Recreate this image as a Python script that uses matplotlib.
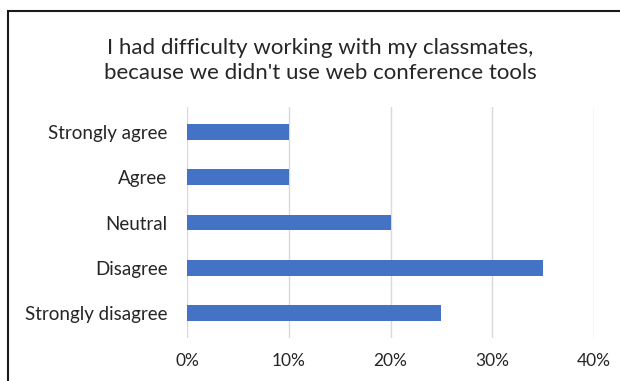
import matplotlib.pyplot as plt
from matplotlib.patches import Rectangle
from matplotlib.ticker import PercentFormatter

categories = ["Strongly agree", "Agree", "Neutral", "Disagree", "Strongly disagree"]
shares = [10, 10, 20, 35, 25]
x_ticks = [0, 10, 20, 30, 40]

plt.rcParams["font.family"] = ["Lato", "DejaVu Sans"]

fig = plt.figure(figsize=(6.2, 3.81), dpi=100)
ax = fig.add_axes([0.3016, 0.113, 0.6565, 0.606])

ypos = list(range(len(categories)))
ax.barh(ypos, shares, height=0.35, color="#4472C4", zorder=3)
ax.set_yticks(ypos)
ax.set_yticklabels(categories, fontsize=13.5, color="#262626")
ax.set_ylim(len(categories) - 0.46, -0.54)

ax.set_xlim(0, 40)
ax.set_xticks(x_ticks)
ax.xaxis.set_major_formatter(PercentFormatter(decimals=0))
ax.tick_params(axis="x", labelsize=12.5, labelcolor="#262626", length=0, pad=11)
ax.tick_params(axis="y", length=0, pad=14)
ax.grid(axis="x", color="#d9d9d9", linewidth=1, zorder=0)
for s in ax.spines.values():
    s.set_visible(False)

fig.text(0.517, 0.842, "I had difficulty working with my classmates,\nbecause we didn't use web conference tools",
         ha="center", va="center", fontsize=16, color="#262626", linespacing=1.3)

# chart frame, running off the right and bottom edges
fig.patches.append(Rectangle((8 / 620, -0.05), 1.1, 1 - 11 / 381 + 0.05,
                             transform=fig.transFigure, fill=False,
                             edgecolor="#1a1a1a", linewidth=1.5))

fig.savefig("out.png", dpi=100)
